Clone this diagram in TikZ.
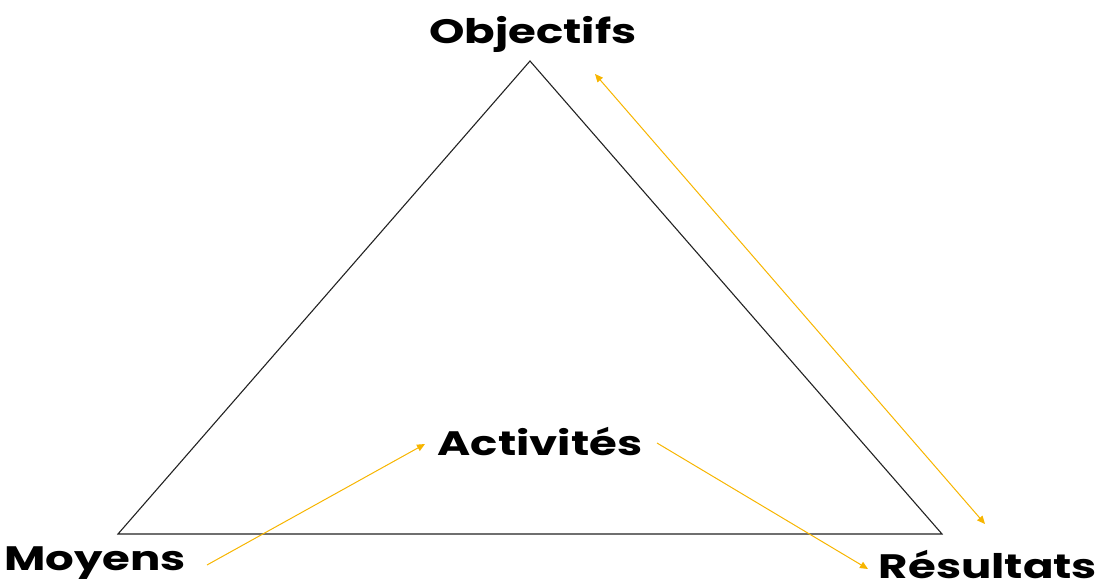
\documentclass[tikz,border=0pt]{standalone}
\usepackage{fontspec}
\setmainfont{Poppins}[UprightFont=* Bold,BoldFont=* Bold,FakeStretch=1.33]
\usetikzlibrary{arrows.meta}
\definecolor{gold}{HTML}{F7B500}
\definecolor{edge}{HTML}{222222}
\begin{document}
\begin{tikzpicture}[x=1bp,y=-1bp,
  lbl/.style={inner sep=0pt,font=\fontsize{34}{40}\selectfont,text=black},
  tri/.style={draw=edge,line width=1.1bp,line join=miter},
  garrow/.style={draw=gold,line width=1bp,-{Triangle[length=8bp,width=7bp]}},
  gdouble/.style={draw=gold,line width=1bp,{Triangle[length=8bp,width=7bp]}-{Triangle[length=8bp,width=7bp]}}]
\useasboundingbox (0,0) rectangle (1101,581);
\coordinate (A) at (530,61);
\coordinate (B) at (118,534);
\coordinate (C) at (942,534);
\draw[tri] (A) -- (B) -- (C) -- cycle;
\node[lbl] (obj) at (533,34) {Objectifs};
\node[lbl] (act) at (540,442) {Activités};
\node[lbl] (moy) at (95,563) {Moyens};
\node[lbl] (res) at (988,565) {Résultats};
\coordinate (m1) at (207,565);
\coordinate (a1) at (425,444);
\coordinate (a2) at (657,443);
\coordinate (r1) at (868,569);
\coordinate (o2) at (595,74);
\coordinate (r2) at (985,524);
\draw[garrow] (m1) -- (a1);
\draw[garrow] (a2) -- (r1);
\draw[gdouble] (o2) -- (r2);
\end{tikzpicture}
\end{document}
